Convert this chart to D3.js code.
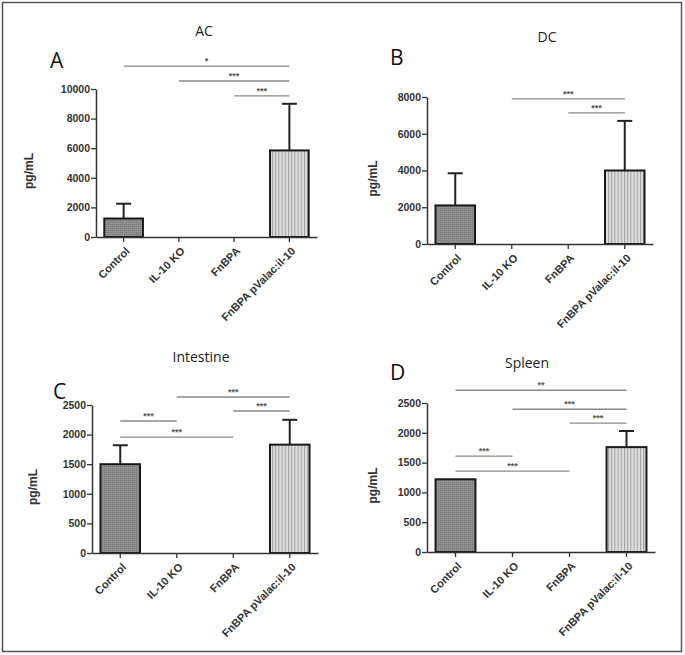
<!DOCTYPE html>
<html><head><meta charset="utf-8">
<script src="https://cdn.jsdelivr.net/npm/d3@7"></script>
<style>body{margin:0;background:#fff}svg{display:block}</style>
</head><body>
<svg id="c" width="685" height="655"></svg>
<script>
const categories = ["Control","IL-10 KO","FnBPA","FnBPA pValac:il-10"];

const acMeans = [1250, 0, 0, 5850];
const acSD    = [1000, 0, 0, 3150];
const acTicks = [0, 2000, 4000, 6000, 8000, 10000];
const acSig   = [[0,3,"*",11550],[1,3,"***",10540],[2,3,"***",9530]];

const dcMeans = [2100, 0, 0, 4000];
const dcSD    = [1750, 0, 0, 2700];
const dcTicks = [0, 2000, 4000, 6000, 8000];
const dcSig   = [[1,3,"***",7900],[2,3,"***",7140]];

const intMeans = [1500, 0, 0, 1830];
const intSD    = [320, 0, 0, 420];
const intTicks = [0, 500, 1000, 1500, 2000, 2500];
const intSig   = [[1,3,"***",2635],[2,3,"***",2399],[0,1,"***",2230],[0,2,"***",1959]];

const splMeans = [1220, 0, 0, 1760];
const splSD    = [0, 0, 0, 270];
const splTicks = [0, 500, 1000, 1500, 2000, 2500];
const splSig   = [[0,3,"**",2714],[1,3,"***",2395],[2,3,"***",2161],[0,1,"***",1608],[0,2,"***",1357]];

const panels = [
  {letter:"A", title:"AC", means:acMeans, sd:acSD, ticks:acTicks, sig:acSig, max:10000,
   x0:96, x1:317, y0:237, yTop:89, lx:50, ly:68, tx:204, ty:36, ylx:33},
  {letter:"B", title:"DC", means:dcMeans, sd:dcSD, ticks:dcTicks, sig:dcSig, max:8000,
   x0:427, x1:653, y0:244, yTop:97, lx:390, ly:65, tx:547, ty:42, ylx:377},
  {letter:"C", title:"Intestine", means:intMeans, sd:intSD, ticks:intTicks, sig:intSig, max:2500,
   x0:92, x1:318, y0:553, yTop:405, lx:53, ly:399, tx:201, ty:362, ylx:37},
  {letter:"D", title:"Spleen", means:splMeans, sd:splSD, ticks:splTicks, sig:splSig, max:2500,
   x0:427, x1:655, y0:552, yTop:403, lx:390, ly:380, tx:527, ty:368, ylx:377}
];

const svg = d3.select("#c");
const defs = svg.append("defs");
// control pattern: fine subtle stipple
const p1 = defs.append("pattern").attr("id","pCtrl").attr("width",2).attr("height",2).attr("patternUnits","userSpaceOnUse");
p1.append("rect").attr("width",2).attr("height",2).attr("fill","#8a8a8a");
p1.append("rect").attr("width",1).attr("height",1).attr("fill","#7c7c7c");
p1.append("rect").attr("x",1).attr("y",1).attr("width",1).attr("height",1).attr("fill","#989898");
// pValac pattern: vertical lines
const p2 = defs.append("pattern").attr("id","pVal").attr("width",3.2).attr("height",4).attr("patternUnits","userSpaceOnUse");
p2.append("rect").attr("width",3.2).attr("height",4).attr("fill","#dedede");
p2.append("rect").attr("width",1).attr("height",4).attr("fill","#a0a0a0");

svg.append("rect").attr("x",2.5).attr("y",2.5).attr("width",679).attr("height",649)
  .attr("fill","none").attr("stroke","#555").attr("stroke-width",1.5);

panels.forEach(p => {
  const g = svg.append("g");
  const x = d3.scaleBand().domain(categories).range([p.x0, p.x1]).paddingInner(0.3).paddingOuter(0.15);
  const y = d3.scaleLinear().domain([0, p.max]).range([p.y0, p.yTop]);

  g.append("text").attr("x",p.lx).attr("y",p.ly).text(p.letter)
    .attr("font-family","Open Sans, sans-serif").attr("font-size",21).attr("fill","#111");
  g.append("text").attr("x",p.tx).attr("y",p.ty).attr("text-anchor","middle").text(p.title)
    .attr("font-family","Open Sans, sans-serif").attr("font-size",14).attr("fill","#222");

  // bars
  const data = categories.map((c,i)=>({c, m:p.means[i], s:p.sd[i], i}));
  g.selectAll("rect.bar").data(data.filter(d=>d.m>0)).join("rect")
    .attr("x", d=>x(d.c)).attr("width", x.bandwidth())
    .attr("y", d=>y(d.m)).attr("height", d=>p.y0 - y(d.m))
    .attr("fill", d=> d.i===0 ? "url(#pCtrl)" : "url(#pVal)")
    .attr("stroke","#1a1a1a").attr("stroke-width",2);

  // error bars
  const eb = data.filter(d=>d.s>0);
  const cx = d => x(d.c) + x.bandwidth()/2;
  g.selectAll("line.ev").data(eb).join("line")
    .attr("x1",cx).attr("x2",cx).attr("y1",d=>y(d.m)).attr("y2",d=>y(d.m+d.s))
    .attr("stroke","#222").attr("stroke-width",2);
  g.selectAll("line.ec").data(eb).join("line")
    .attr("x1",d=>cx(d)-7.5).attr("x2",d=>cx(d)+7.5).attr("y1",d=>y(d.m+d.s)).attr("y2",d=>y(d.m+d.s))
    .attr("stroke","#222").attr("stroke-width",2);

  // axes
  const ya = g.append("g").attr("transform",`translate(${p.x0},0)`)
    .call(d3.axisLeft(y).tickValues(p.ticks).tickSize(5).tickSizeOuter(0).tickFormat(d3.format("d")));
  ya.select(".domain").attr("stroke","#333").attr("stroke-width",1.5);
  ya.selectAll(".tick line").attr("stroke","#333").attr("stroke-width",1.3);
  ya.selectAll("text").attr("font-family","Liberation Sans, Arial, sans-serif").attr("font-weight","bold")
    .attr("font-size",10.5).attr("fill","#333").attr("x",-6);

  const xa = g.append("g").attr("transform",`translate(0,${p.y0})`)
    .call(d3.axisBottom(x).tickSize(5).tickSizeOuter(0));
  xa.select(".domain").attr("stroke","#333").attr("stroke-width",1.5);
  xa.selectAll(".tick line").attr("stroke","#333").attr("stroke-width",1.3);
  xa.selectAll("text").attr("font-family","Liberation Sans, Arial, sans-serif").attr("font-weight","bold")
    .attr("font-size",11).attr("fill","#333")
    .attr("text-anchor","end").attr("y",0).attr("dy","0.35em")
    .attr("transform","translate(4,12) rotate(-45)");

  g.append("text").attr("transform",`translate(${p.ylx},${(p.y0+p.yTop)/2+8}) rotate(-90)`)
    .attr("text-anchor","middle").text("pg/mL")
    .attr("font-family","Liberation Sans, Arial, sans-serif").attr("font-weight","bold")
    .attr("font-size",12).attr("fill","#333");

  // significance
  const sg = g.selectAll("g.sig").data(p.sig).join("g");
  const px = i => x(categories[i]) + x.bandwidth()/2;
  sg.append("line").attr("x1",d=>px(d[0])).attr("x2",d=>px(d[1]))
    .attr("y1",d=>y(d[3])).attr("y2",d=>y(d[3])).attr("stroke","#8a8a8a").attr("stroke-width",1.3);
  sg.append("text").attr("x",d=>(px(d[0])+px(d[1]))/2).attr("y",d=>y(d[3])-2)
    .attr("text-anchor","middle").text(d=>d[2])
    .attr("font-family","Liberation Sans, Arial, sans-serif").attr("font-weight","bold")
    .attr("font-size",9).attr("fill","#555");
});
</script>
</body></html>
